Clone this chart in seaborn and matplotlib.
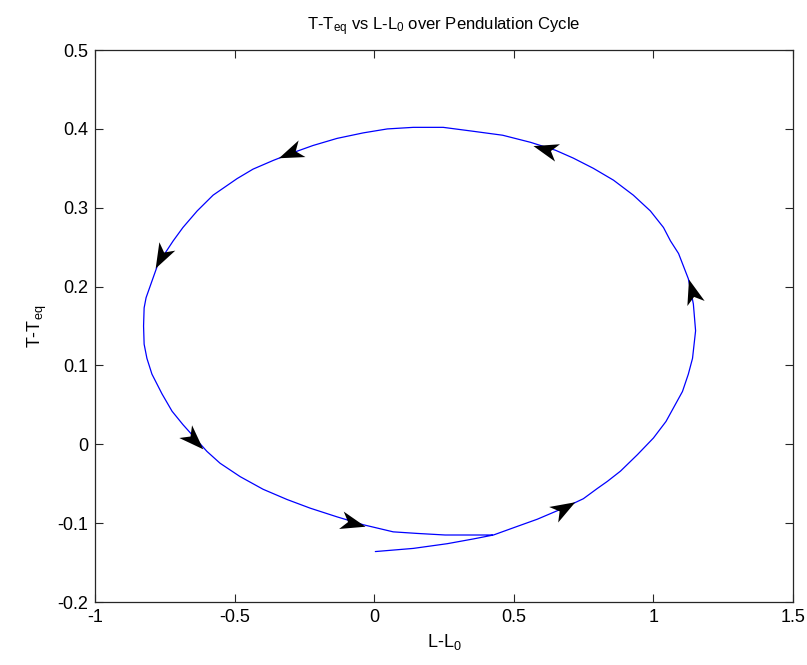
import numpy as np
import pandas as pd
import matplotlib
matplotlib.use("Agg")
import matplotlib.pyplot as plt
from matplotlib.markers import MarkerStyle
from matplotlib.path import Path
from matplotlib.transforms import Affine2D
import seaborn as sns

# Trajectory of length deviation (L-L0) vs. tension deviation (T-Teq)
L_dev = [0.004, 0.140, 0.262, 0.355, 0.427, 0.513, 0.584, 0.677, 0.749, 0.799,
         0.835, 0.882, 0.943, 1.000, 1.045, 1.104, 1.125, 1.140, 1.151, 1.143,
         1.125, 1.090, 1.061, 1.036, 0.989, 0.928, 0.857, 0.785, 0.713, 0.649,
         0.560, 0.460, 0.355, 0.247, 0.140, 0.047, -0.039, -0.133, -0.219, -0.290,
         -0.362, -0.434, -0.491, -0.577, -0.634, -0.685, -0.720, -0.774, -0.796, -0.817,
         -0.824, -0.826, -0.824, -0.814, -0.796, -0.760, -0.724, -0.685, -0.642, -0.599,
         -0.552, -0.480, -0.398, -0.312, -0.229, -0.133, -0.039, 0.068, 0.154, 0.254,
         0.369, 0.423]
T_dev = [-0.136, -0.132, -0.126, -0.120, -0.115, -0.104, -0.095, -0.081, -0.069, -0.056,
         -0.047, -0.034, -0.013, 0.008, 0.029, 0.067, 0.089, 0.109, 0.144, 0.178,
         0.210, 0.242, 0.258, 0.275, 0.296, 0.316, 0.335, 0.350, 0.363, 0.373,
         0.383, 0.392, 0.397, 0.402, 0.402, 0.400, 0.395, 0.388, 0.379, 0.370,
         0.360, 0.349, 0.337, 0.316, 0.296, 0.275, 0.258, 0.229, 0.207, 0.186,
         0.173, 0.150, 0.127, 0.109, 0.089, 0.064, 0.042, 0.025, 0.008, -0.009,
         -0.024, -0.041, -0.057, -0.070, -0.081, -0.092, -0.102, -0.111, -0.113, -0.115,
         -0.115, -0.115]

# Direction arrows placed along the cycle (arrow tip positions)
arrow_L = [0.720, 1.125, 0.570, -0.344, -0.785, -0.613, -0.032]
arrow_T = [-0.073, 0.210, 0.379, 0.364, 0.224, -0.006, -0.104]

x_ticks = [-1, -0.5, 0, 0.5, 1, 1.5]
y_ticks = [-0.2, -0.1, 0, 0.1, 0.2, 0.3, 0.4, 0.5]

sns.set_theme(style="white")
plt.rcParams["font.family"] = ["Liberation Sans Narrow", "Liberation Sans", "DejaVu Sans"]
plt.rcParams["mathtext.fontset"] = "custom"
plt.rcParams["mathtext.rm"] = "Liberation Sans"
plt.rcParams["mathtext.it"] = "Liberation Sans"

fig = plt.figure(figsize=(8.07, 6.65), dpi=100)
ax = fig.add_axes([0.1177, 0.0947, 0.865, 0.830])

df = pd.DataFrame({"L": L_dev, "T": T_dev})
sns.lineplot(data=df, x="L", y="T", sort=False, estimator=None,
             color="#0000ff", linewidth=0.9, ax=ax)

ax.set_xlim(-1, 1.5)
ax.set_ylim(-0.2, 0.5)
ax.set_xticks(x_ticks)
ax.set_xticklabels([f"{v:g}" for v in x_ticks])
ax.set_yticks(y_ticks)
ax.set_yticklabels([f"{v:g}" for v in y_ticks])
ax.tick_params(direction="in", length=6, width=0.8, colors="#262626",
               labelsize=13, top=True, right=True, bottom=True, left=True,
               labelcolor="black", pad=5)
for sp in ax.spines.values():
    sp.set_visible(True)
    sp.set_color("#262626")
    sp.set_linewidth(0.9)

ax.set_xlabel(r"L-L$_0$", fontsize=13, color="black", labelpad=4)
ax.set_ylabel(r"T-T$_{\mathrm{eq}}$", fontsize=13, color="black", labelpad=6)
ax.set_title(r"T-T$_{\mathrm{eq}}$ vs L-L$_0$ over Pendulation Cycle",
             fontsize=12, color="black", pad=14)

# Arrowhead glyph (notched, pointing along +x)
head = Path([(1.0, 0.0), (-1.0, 0.72), (-0.45, 0.0), (-1.0, -0.72), (1.0, 0.0)],
            [Path.MOVETO, Path.LINETO, Path.LINETO, Path.LINETO, Path.CLOSEPOLY])

pts = np.column_stack([L_dev, T_dev])
disp = ax.transData.transform(pts)
for ax_x, ax_y in zip(arrow_L, arrow_T):
    tip = ax.transData.transform((ax_x, ax_y))
    i = int(np.argmin(np.hypot(*(disp - tip).T)))
    i0, i1 = max(i - 1, 0), min(i + 1, len(disp) - 1)
    d = disp[i1] - disp[i0]
    ang = np.degrees(np.arctan2(d[1], d[0]))
    # shift so the glyph's tip sits at the arrow position
    size_px = 25
    u = d / np.hypot(*d)
    center = tip - u * size_px / 2
    cx, cy = ax.transData.inverted().transform(center)
    m = MarkerStyle(head, transform=Affine2D().rotate_deg(ang))
    ax.plot([cx], [cy], marker=m, markersize=size_px * 72 / 100,
            color="black", markeredgewidth=0, linestyle="none", zorder=5)

fig.savefig("out.png", dpi=100)
